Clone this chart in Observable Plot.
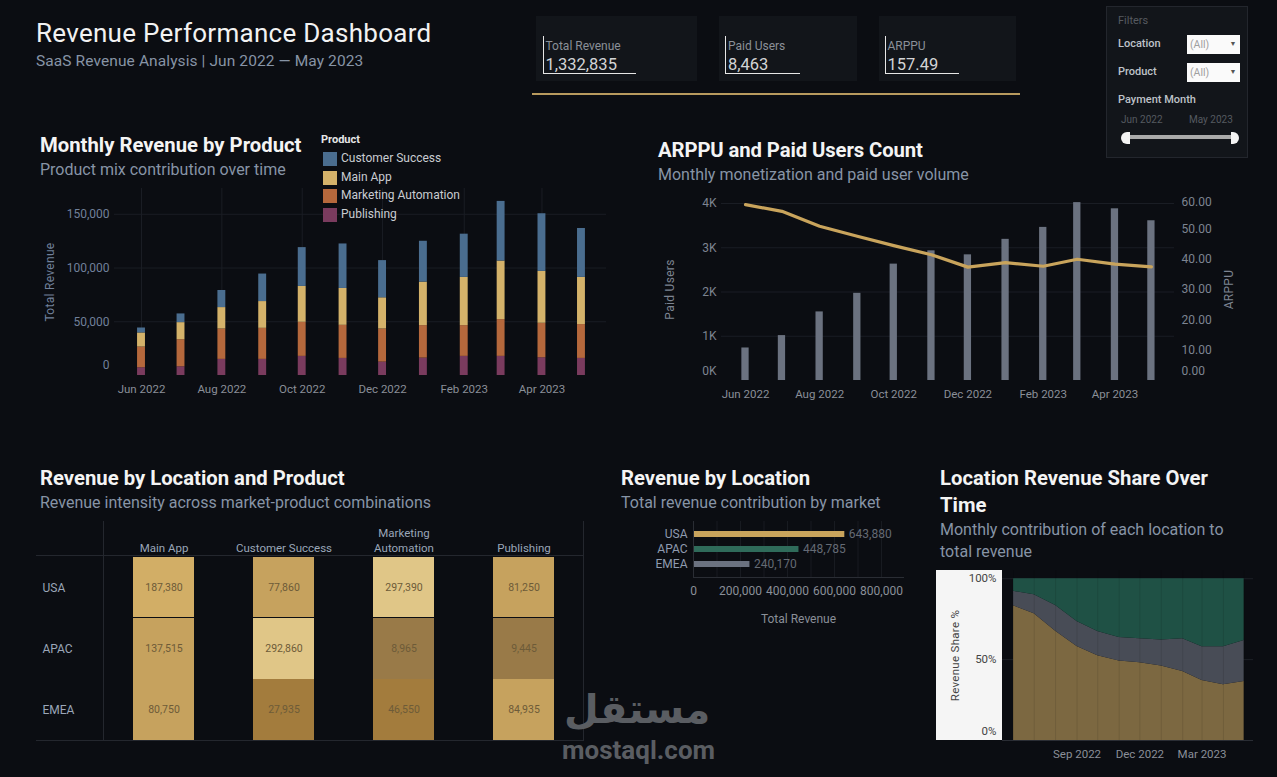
<!DOCTYPE html>
<html><head><meta charset="utf-8">
<script src="https://cdn.jsdelivr.net/npm/d3@7"></script>
<script src="https://cdn.jsdelivr.net/npm/@observablehq/plot@0.6"></script>
<style>
html,body{margin:0;padding:0;background:#0b0d12;overflow:hidden}
#page{position:relative;width:1277px;height:777px;overflow:hidden;font-family:Roboto,sans-serif}
.abs{position:absolute}
.t{position:absolute;white-space:nowrap;transform:translateY(-50%);line-height:1}
.h{font-weight:700;font-size:20.3px;color:#f4f4f4}
.s{font-size:16px;color:#8794a6}
.kl{font-size:12px;color:#8b9098}
.kv{font-size:16.5px;color:#d3d4d6}
.fl{font-size:11px;font-weight:500;color:#bfc3c9}
.legend{font-size:12px;color:#c9ccd1}
svg.plot{position:absolute;overflow:visible}
svg [aria-label="y-axis label"] text{letter-spacing:.3px}
</style></head><body><div id="page"></div>
<script>
// ---- data ----
const monthStrings = ["2022-06-01","2022-07-01","2022-08-01","2022-09-01","2022-10-01","2022-11-01","2022-12-01","2023-01-01","2023-02-01","2023-03-01","2023-04-01","2023-05-01"];
const productOrder = ["Customer Success","Main App","Marketing Automation","Publishing"];
const productColors = ["#4a6d8f","#d4b26a","#b5683c","#7a3b5e"];
const revPublishing = [7200,8100,15000,15000,17800,15900,12500,16200,17800,17800,16500,15900];
const revMarketing  = [19300,25200,28300,28900,31700,30800,30800,30200,28600,34200,32100,31500];
const revMainApp    = [13100,15900,19900,24900,33400,34300,29000,40500,44900,54500,48300,43900];
const revCustomer   = [4600,8100,15900,25600,36100,41400,34600,38000,40200,55500,53600,45500];
const paidUsers = [735,1015,1550,1970,2630,2930,2840,3190,3460,4020,3880,3610];
const arppu = [58,55.8,50.9,47.6,44.5,41.5,37.4,38.9,37.7,40,38.4,37.5];
const heatProducts = ["Main App","Customer Success","Marketing Automation","Publishing"];
const heatLocations = ["USA","APAC","EMEA"];
const heatUSA  = [187380,77860,297390,81250];
const heatAPAC = [137515,292860,8965,9445];
const heatEMEA = [80750,27935,46550,84935];
const locNames = ["USA","APAC","EMEA"];
const locRevenue = [643880,448785,240170];
const locColors = ["#c9a45c","#2f6b5a","#6b7280"];
const shareUSA  = [83.3,78.4,67.6,58.1,52.4,49.1,48,46,42.7,37.1,34.4,36.5];
const shareEMEA = [8.9,11.7,15.9,15.5,15,14.6,14.9,16.1,20.2,20.8,23.5,25.4];
const shareAPAC = [7.8,9.9,16.5,26.4,32.6,36.3,37.1,37.9,37.1,42.1,42.1,38.1];
const kpis = [["Total Revenue","1,332,835"],["Paid Users","8,463"],["ARPPU","157.49"]];

// ---- helpers ----
const page = document.getElementById("page");
const months = monthStrings.map(s => new Date(s + "T00:00:00Z"));
const biMonths = months.filter((d,i) => i % 2 === 0);
const fmtMonth = d3.utcFormat("%b %Y");
const fmtComma = d3.format(",");
const day = (d,n) => d3.utcDay.offset(d,n);
const GRID = "#1a1d24";
function box(x,y,w,h,css=""){const e=document.createElement("div");e.className="abs";e.style.cssText=`left:${x}px;top:${y}px;width:${w}px;height:${h}px;${css}`;page.appendChild(e);return e;}
function txt(s,x,cy,cls,css=""){const e=document.createElement("div");e.className="t "+cls;e.textContent=s;e.style.cssText=`left:${x}px;top:${cy}px;${css}`;page.appendChild(e);return e;}
function place(p,x,y){p.style.left=x+"px";p.style.top=y+"px";p.style.position="absolute";p.style.maxWidth="none";page.appendChild(p);}
const baseStyle = {background:"transparent",fontFamily:"Roboto,sans-serif",fontSize:"11.5px",overflow:"visible"};

// ---- header ----
txt("Revenue Performance Dashboard",36,33,"","font-size:26px;color:#f2f2f2;letter-spacing:.28px");
txt("SaaS Revenue Analysis | Jun 2022 — May 2023",36,61.5,"","font-size:15.5px;color:#8794a6;letter-spacing:.1px");

// KPI cards
[[536,161,542.5,636],[719,138,725,800],[879,137,884.5,958.5]].forEach(([x,w,lx,rx],i)=>{
  box(x,16,w,65,"background:#12151a");
  box(lx,36,1,37,"background:#e6e6e6");
  box(lx,73,rx-lx,1,"background:#e6e6e6");
  txt(kpis[i][0],lx+3,45.5,"kl");
  txt(kpis[i][1],lx+3,64.5,"kv");
});
box(532,93,488,2,"background:#b89a5e");

// Filters
box(1106,6,142,152,"background:#12151a;border:1px solid #23262d;box-sizing:border-box");
txt("Filters",1118,20,"","font-size:11px;color:#565a60");
txt("Location",1118,43,"fl");
txt("Product",1118,71,"fl");
[35,63].forEach(y=>{
  box(1187,y,52.5,18.5,"background:#fafafa");
  txt("(All)",1190,y+10,"","font-size:10.5px;color:#a0a0a0");
  txt("▼",1229.5,y+9,"","font-size:7px;color:#555");
});
txt("Payment Month",1118,99,"fl");
txt("Jun 2022",1121,119.5,"","font-size:10px;color:#555a60");
txt("May 2023",1189,119.5,"","font-size:10px;color:#555a60");
box(1129,135,103,4,"background:#a9a9a9");
box(1121,132,8.5,11.5,"background:#f4f4f4;border-radius:6px 0 0 6px");
box(1231,132,8,11.5,"background:#f4f4f4;border-radius:0 6px 6px 0");

// ---- Monthly Revenue by Product ----
txt("Monthly Revenue by Product",40,145,"h");
txt("Product mix contribution over time",40,169.5,"s");
const revRows = [];
months.forEach((m,i)=>{
  [["Publishing",revPublishing],["Marketing Automation",revMarketing],["Main App",revMainApp],["Customer Success",revCustomer]]
    .forEach(([p,a])=>revRows.push({month:m,product:p,value:a[i]}));
});
place(Plot.plot({
  width:592,height:237,marginLeft:84,marginRight:16,marginTop:8,marginBottom:42,style:baseStyle,
  x:{type:"utc",domain:[new Date("2022-05-11T12:00:00Z"),new Date("2023-05-20T00:00:00Z")]},
  y:{domain:[0,174000]},
  color:{domain:productOrder,range:productColors},
  marks:[
    Plot.gridY([50000,100000,150000],{stroke:GRID,strokeOpacity:1}),
    Plot.gridX(biMonths,{stroke:GRID,strokeOpacity:1}),
    Plot.rectY(revRows,{x1:d=>day(d.month,-3),x2:d=>day(d.month,3),y:"value",fill:"product",order:["Publishing","Marketing Automation","Main App","Customer Success"]}),
    Plot.axisX(biMonths,{tickSize:0,tickPadding:9,tickFormat:fmtMonth,color:"#8a8f98",label:null}),
    Plot.axisY([50000,100000,150000],{tickSize:0,tickPadding:5,tickFormat:fmtComma,color:"#71809a",fontSize:12,label:"Total Revenue",labelAnchor:"center",labelArrow:"none",labelOffset:69}),
    Plot.axisY([0],{tickSize:0,tickPadding:5,tickFormat:fmtComma,color:"#71809a",fontSize:12,dy:-10,label:null})
  ]
}),30,180);
txt("Product",321,139,"","font-size:11px;font-weight:700;color:#e6e6e6");
[[152,158],[171,177],[189,195],[208,214]].forEach(([y,cy],i)=>{
  box(323,y,14,13.5,`background:${productColors[i]}`);
  txt(productOrder[i],341,cy,"legend");
});

// ---- ARPPU and Paid Users ----
txt("ARPPU and Paid Users Count",658,150,"h","letter-spacing:-.1px");
txt("Monthly monetization and paid user volume",658,174.5,"s");
const k = 68.5;
const userRows = months.map((m,i)=>({month:m,users:paidUsers[i],arppu:arppu[i]}));
place(Plot.plot({
  width:600,height:226,marginLeft:71,marginRight:76,marginTop:8,marginBottom:36,style:baseStyle,
  x:{type:"utc",domain:[new Date("2022-05-12T06:00:00Z"),new Date("2023-05-20T00:00:00Z")]},
  y:{domain:[0,4113]},
  marks:[
    Plot.gridY([1000,2000,3000,4000],{stroke:GRID,strokeOpacity:1}),
    Plot.rectY(userRows,{x1:d=>day(d.month,-3),x2:d=>day(d.month,3),y:"users",fill:"#6b7280"}),
    Plot.line(userRows,{x:"month",y:d=>d.arppu*k,stroke:"#c9a45c",strokeWidth:3.2}),
    Plot.axisX(biMonths,{tickSize:0,tickPadding:9,tickFormat:fmtMonth,color:"#8a8f98",label:null}),
    Plot.axisY([1000,2000,3000,4000],{tickSize:0,tickPadding:5,tickFormat:d=>d/1000+"K",color:"#7d8491",fontSize:12,label:"Paid Users",labelAnchor:"center",labelArrow:"none",labelOffset:56}),
    Plot.axisY([0],{tickSize:0,tickPadding:5,tickFormat:d=>"0K",color:"#7d8491",fontSize:12,dy:-9,label:null}),
    Plot.axisY([10,20,30,40,50].map(v=>v*k),{anchor:"right",tickSize:0,tickPadding:7,tickFormat:d=>(d/k).toFixed(2),color:"#7d8491",fontSize:12,label:"ARPPU",labelAnchor:"center",labelArrow:"none",labelOffset:58}),
    Plot.axisY([60*k],{anchor:"right",tickSize:0,tickPadding:7,tickFormat:d=>(d/k).toFixed(2),color:"#7d8491",fontSize:12,dy:4,label:null}),
    Plot.axisY([0],{anchor:"right",tickSize:0,tickPadding:7,tickFormat:d=>(d/k).toFixed(2),color:"#7d8491",fontSize:12,dy:-9,label:null})
  ]
}),650,190);

// ---- Heat table ----
txt("Revenue by Location and Product",40,478,"h");
txt("Revenue intensity across market-product combinations",40,502.5,"s");
box(103,521,1,219,`background:#24272e`);
box(583,521,1,219,`background:#24272e`);
box(36,555,548,1,`background:#24272e`);
box(36,739.5,548,1,`background:#24272e`);
const heatRows = [];
[heatUSA,heatAPAC,heatEMEA].forEach((a,r)=>a.forEach((v,c)=>heatRows.push({loc:heatLocations[r],product:heatProducts[c],value:v})));
const labelColor = "#9aa6b8";
place(Plot.plot({
  width:554,height:225,marginLeft:73,marginRight:1,marginTop:41,marginBottom:0,style:baseStyle,
  x:{type:"band",domain:heatProducts,paddingInner:.49,paddingOuter:.245},
  y:{type:"band",domain:heatLocations,padding:0},
  color:{type:"threshold",domain:[15000,60000,150000,250000],range:["#997a48","#a37c3d","#c6a25e","#d2ae66","#e0c687"]},
  marks:[
    Plot.cell(heatRows.filter(d=>d.loc==="USA"),{x:"product",y:"loc",fill:"value",insetBottom:1}),
    Plot.cell(heatRows.filter(d=>d.loc!=="USA"),{x:"product",y:"loc",fill:"value"}),
    Plot.text(heatRows,{x:"product",y:"loc",text:d=>fmtComma(d.value),fill:"#6d5b38",fontSize:10.5}),
    Plot.axisX({anchor:"top",tickSize:0,tickPadding:5,lineHeight:1.3,tickFormat:d=>d==="Marketing Automation"?"Marketing\nAutomation":d,color:labelColor,label:null}),
    Plot.axisY({tickSize:0,tickPadding:62,textAnchor:"start",fontSize:12,color:labelColor,label:null})
  ]
}),30.9,514.6);

// ---- Revenue by Location ----
txt("Revenue by Location",621,478,"h");
txt("Total revenue contribution by market",621,502.5,"s");
const locRows = locNames.map((n,i)=>({loc:n,value:locRevenue[i]}));
place(Plot.plot({
  width:292,height:115,marginLeft:72,marginRight:10,marginTop:6,marginBottom:53,style:{...baseStyle,fontSize:"12px"},
  x:{domain:[0,893600]},
  y:{type:"band",domain:locNames,padding:.6},
  color:{domain:locNames,range:locColors},
  marks:[
    Plot.gridX(d3.range(100000,900000,100000),{stroke:"#181b21",strokeOpacity:1}),
    Plot.barX(locRows,{x:"value",y:"loc",fill:"loc"}),
    Plot.text(locRows,{x:"value",y:"loc",text:d=>fmtComma(d.value),textAnchor:"start",dx:4,fill:"#646a74",fontSize:12}),
    Plot.frame({anchor:"bottom",stroke:"#2a2d34"}),
    Plot.ruleX([0],{stroke:"#2a2d34"}),
    Plot.axisX([0,200000,400000,600000,800000],{tickSize:0,tickPadding:9,tickFormat:fmtComma,color:"#8a8f98",fontSize:12,label:"Total Revenue",labelAnchor:"center",labelArrow:"none",labelOffset:45}),
    Plot.axisY({tickSize:0,tickPadding:6,color:"#8f9bb0",label:null})
  ]
}),620.7,515);

// ---- Share over time ----
txt("Location Revenue Share Over",940,478,"h");
txt("Time",940,505,"h");
txt("Monthly contribution of each location to",940,529.5,"s");
txt("total revenue",940,551.5,"s");
box(936,570,66,170,"background:#f5f5f5");
const shareRows = [];
months.forEach((m,i)=>{
  [["USA",shareUSA],["EMEA",shareEMEA],["APAC",shareAPAC]].forEach(([l,a])=>shareRows.push({month:m,loc:l,share:a[i]}));
});
place(Plot.plot({
  width:318,height:200,marginLeft:66,marginRight:1,marginTop:0,marginBottom:30,style:baseStyle,
  x:{type:"utc",domain:[new Date("2022-05-16T02:00:00Z"),new Date("2023-05-14T12:00:00Z")]},
  y:{domain:[0,105.1]},
  color:{domain:["USA","EMEA","APAC"],range:["#7c6841","#484c56","#1f5145"]},
  marks:[
    Plot.gridY([50,100],{stroke:"#1d2026",strokeOpacity:1}),
    Plot.areaY(shareRows,{x:"month",y:"share",fill:"loc",order:["USA","EMEA","APAC"]}),
    Plot.gridX(months,{stroke:"#000",strokeOpacity:.1}),
    Plot.ruleY([0],{stroke:"#2a2d34"}),
    Plot.axisX([months[3],months[6],months[9]],{tickSize:0,tickPadding:9,tickFormat:fmtMonth,color:"#8a8f98",label:null}),
    Plot.axisY([50,100],{tickSize:0,tickPadding:6,tickFormat:d=>d+"%",color:"#444",label:"Revenue Share %",labelAnchor:"center",labelArrow:"none",labelOffset:52}),
    Plot.axisY([0],{tickSize:0,tickPadding:6,tickFormat:d=>d+"%",color:"#444",dy:-9,label:null})
  ]
}),936,570);

// ---- watermark ----
txt("مستقل",564,709,"","font-family:'DejaVu Sans';font-weight:700;font-size:40px;color:#5a5d62;direction:rtl;unicode-bidi:plaintext");
txt("mostaql.com",562,750,"","font-family:Roboto;font-weight:700;font-size:26px;color:#5a5d62");
</script></body></html>
